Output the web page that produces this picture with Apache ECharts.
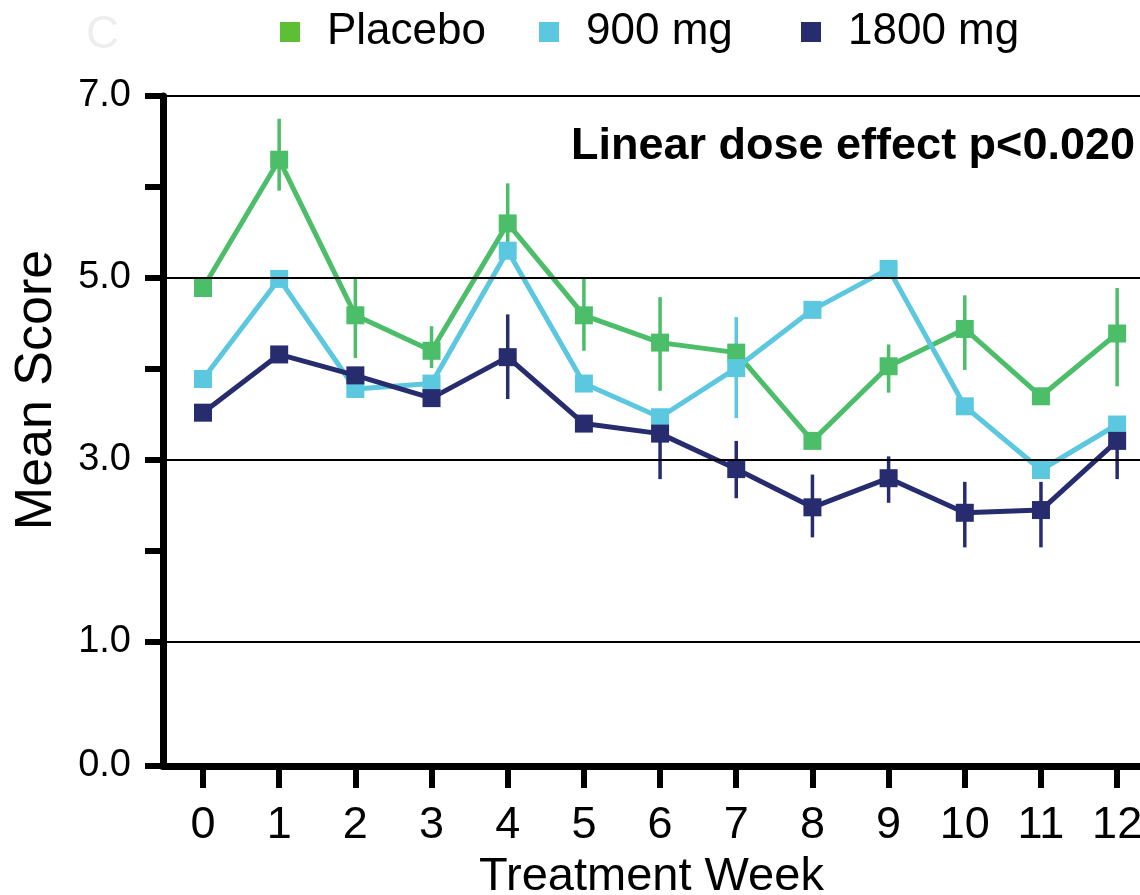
<!DOCTYPE html>
<html>
<head>
<meta charset="utf-8">
<script src="https://cdn.jsdelivr.net/npm/echarts@6/dist/echarts.min.js"></script>
<style>
html,body{margin:0;padding:0;background:#fff;}
#chart{width:1140px;height:895px;}
</style>
</head>
<body>
<div id="chart"></div>
<script>
// ---- data ----
var weeks = [0,1,2,3,4,5,6,7,8,9,10,11,12];
var seriesNames = ['Placebo', '900 mg', '1800 mg'];
var placebo = [4.89, 6.30, 4.59, 4.20, 5.60, 4.59, 4.29, 4.18, 3.21, 4.03, 4.44, 3.70, 4.39];
var dose900 = [3.89, 4.99, 3.78, 3.84, 5.30, 3.84, 3.47, 4.01, 4.65, 5.10, 3.59, 2.89, 3.39];
var dose1800 = [3.52, 4.16, 3.93, 3.68, 4.13, 3.40, 3.29, 2.90, 2.48, 2.80, 2.42, 2.45, 3.21];
var placeboHigh = [null, 6.75, 5.01, 4.47, 6.04, 4.99, 4.79, null, null, 4.27, 4.81, null, 4.89];
var placeboLow  = [null, 5.96, 4.12, 4.01, 5.25, 4.20, 3.76, null, null, 3.74, 3.99, null, 3.81];
var dose900High = [null, null, null, null, null, null, null, 4.57, null, null, null, null, null];
var dose900Low  = [null, null, null, null, null, null, null, 3.46, null, null, null, null, null];
var dose1800High = [null, null, null, null, 4.60, null, 3.41, 3.21, 2.84, 3.04, 2.76, 2.76, 3.48];
var dose1800Low  = [null, null, null, null, 3.67, null, 2.79, 2.58, 2.15, 2.53, 2.04, 2.04, 2.79];
var yTickValues = [1, 2, 3, 4, 5, 6, 7];
var yLabelValues = [1, 3, 5, 7];
var gridValues = [1, 3, 5, 7];
var annotation = 'Linear dose effect p<0.020';

var Y_MIN = -0.3626; // broken-axis bottom, labelled 0.0
var FONT = "'Liberation Sans', Arial, Helvetica, sans-serif";
var colors = ['#4cbe6a', '#5bc8e0', '#272c6f'];
var legendColors = ['#5cbf35', '#5bc8e0', '#272c6f'];

function pairs(vals) { return weeks.map(function (w, i) { return [w, vals[i]]; }); }
function errData(lo, hi) {
  var out = [];
  weeks.forEach(function (w, i) { if (lo[i] != null && hi[i] != null) out.push([w, lo[i], hi[i]]); });
  return out;
}
function errSeries(lo, hi, color) {
  return {
    type: 'custom',
    z: 3,
    silent: true,
    data: errData(lo, hi),
    encode: { x: 0, y: [1, 2] },
    renderItem: function (params, api) {
      var p1 = api.coord([api.value(0), api.value(1)]);
      var p2 = api.coord([api.value(0), api.value(2)]);
      return {
        type: 'line',
        shape: { x1: p1[0], y1: p1[1], x2: p2[0], y2: p2[1] },
        style: { stroke: color, lineWidth: 3.5 }
      };
    }
  };
}
function lineSeries(name, vals, color) {
  return {
    name: name,
    type: 'line',
    z: 3,
    data: pairs(vals),
    symbol: 'rect',
    symbolSize: 18,
    showAllSymbol: true,
    lineStyle: { color: color, width: 5 },
    itemStyle: { color: color },
    emphasis: { disabled: true },
    animation: false
  };
}

var chart = echarts.init(document.getElementById('chart'), null, { renderer: 'canvas' });
var legendLefts = [275, 534, 796];
var option = {
  animation: false,
  backgroundColor: '#fff',
  textStyle: { fontFamily: FONT },
  legend: seriesNames.map(function (n, i) {
    return {
      left: legendLefts[i], top: 5,
      icon: 'rect', itemWidth: 20, itemHeight: 20,
      selectedMode: false,
      data: [{ name: n, itemStyle: { color: legendColors[i] } }],
      textStyle: { fontFamily: FONT, fontSize: 44, color: '#000', padding: [0, 0, 0, 22] }
    };
  }),
  grid: { left: 163, right: 0, top: 96, bottom: 129, containLabel: false, outerBoundsMode: 'none' },
  xAxis: {
    type: 'value', min: -0.525, max: 12.3,
    axisLine: { show: true, onZero: false, lineStyle: { color: '#000', width: 7 } },
    axisTick: { show: true, length: 22, lineStyle: { color: '#000', width: 6 }, customValues: weeks },
    axisLabel: { fontSize: 45, color: '#000', margin: 37, fontFamily: FONT, customValues: weeks },
    splitLine: { show: false },
    name: 'Treatment Week', nameLocation: 'middle', nameGap: 88,
    nameTextStyle: { fontSize: 47, color: '#000', fontFamily: FONT }
  },
  yAxis: {
    type: 'value', min: Y_MIN, max: 7,
    axisLine: { show: true, onZero: false, lineStyle: { color: '#000', width: 7 } },
    axisTick: { show: true, length: 18, lineStyle: { color: '#000', width: 6 }, customValues: [Y_MIN].concat(yTickValues) },
    axisLabel: {
      fontSize: 38, color: '#000', margin: 32, fontFamily: FONT,
      customValues: [Y_MIN].concat(yLabelValues),
      formatter: function (v) { return v < 0 ? '0.0' : Number(v).toFixed(1); }
    },
    splitLine: { show: false }
  },
  graphic: [
    { type: 'text', left: 86, top: 12, style: { text: 'C', font: '46px ' + FONT, fill: '#eeeeee' } },
    { type: 'text', x: 37, y: 390, rotation: Math.PI / 2,
      style: { text: 'Mean Score', font: '52px ' + FONT, fill: '#000', textAlign: 'center', textVerticalAlign: 'middle' } },
    { type: 'text', x: 1135, y: 147, z: 10,
      style: { text: annotation, font: 'bold 45px ' + FONT, fill: '#000', textAlign: 'right', textVerticalAlign: 'middle' } }
  ],
  series: [
    {
      type: 'line', data: [], z: 1, silent: true,
      markLine: {
        silent: true, symbol: ['none', 'none'], animation: false,
        label: { show: false },
        lineStyle: { color: '#000', width: 2, type: 'solid' },
        emphasis: { disabled: true },
        data: gridValues.map(function (v) { return { yAxis: v }; })
      }
    },
    lineSeries(seriesNames[0], placebo, colors[0]),
    errSeries(placeboLow, placeboHigh, colors[0]),
    lineSeries(seriesNames[1], dose900, colors[1]),
    errSeries(dose900Low, dose900High, colors[1]),
    lineSeries(seriesNames[2], dose1800, colors[2]),
    errSeries(dose1800Low, dose1800High, colors[2])
  ]
};
chart.setOption(option);
</script>
</body>
</html>
